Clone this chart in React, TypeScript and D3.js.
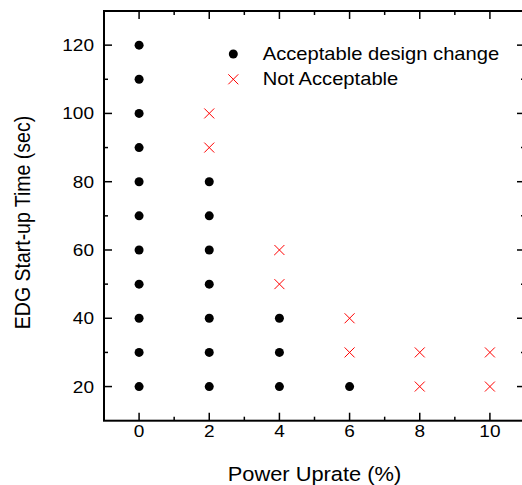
import React from 'react';
import * as d3 from 'd3';

// Acceptable design change (black dots)
const acceptableUprate = [0, 0, 0, 0, 0, 0, 0, 0, 0, 0, 0, 2, 2, 2, 2, 2, 2, 2, 4, 4, 4, 6];
const acceptableTime = [20, 30, 40, 50, 60, 70, 80, 90, 100, 110, 120, 20, 30, 40, 50, 60, 70, 80, 20, 30, 40, 20];

// Not acceptable (red crosses)
const rejectedUprate = [2, 2, 4, 4, 6, 6, 8, 8, 10, 10];
const rejectedTime = [90, 100, 50, 60, 30, 40, 20, 30, 20, 30];

const xMajorTicks = [0, 2, 4, 6, 8, 10];
const xMinorTicks = [1, 3, 5, 7, 9];
const yMajorTicks = [20, 40, 60, 80, 100, 120];
const yMinorTicks = [30, 50, 70, 90, 110];

const legendLabels = ['Acceptable design change', 'Not Acceptable'];

const W = 522;
const H = 485;
const FONT = '"Liberation Sans", Arial, sans-serif';
const STRETCH = 1.12; // glyphs in the source are a bit wide

const App = () => {
  const left = 104, right = 525, top = 11, bottom = 420.7;

  const x = d3.scaleLinear().domain([-1, 11]).range([left, right]);
  const y = d3.scaleLinear().domain([10, 130]).range([bottom, top]);

  const crossPath = (cx: number, cy: number, s = 5) =>
    `M${cx - s},${cy - s}L${cx + s},${cy + s}M${cx - s},${cy + s}L${cx + s},${cy - s}`;

  const txt = (tx: number, ty: number) => `translate(${tx},${ty}) scale(${STRETCH},1)`;

  return (
    <svg
      width={W}
      height={H}
      style={{ position: 'absolute', left: 0, top: 0, display: 'block', background: '#fff' }}
      fontFamily={FONT}
    >
      {/* frame */}
      <rect x={left} y={top} width={right - left} height={bottom - top} fill="none" stroke="#000" strokeWidth={2} />

      {/* x ticks, bottom + top, pointing inward */}
      {xMajorTicks.map(t => (
        <g key={'xM' + t} stroke="#000" strokeWidth={1.5}>
          <line x1={x(t)} x2={x(t)} y1={bottom} y2={bottom - 8} />
          <line x1={x(t)} x2={x(t)} y1={top} y2={top + 8} />
        </g>
      ))}
      {xMinorTicks.map(t => (
        <g key={'xm' + t} stroke="#000" strokeWidth={1.5}>
          <line x1={x(t)} x2={x(t)} y1={bottom} y2={bottom - 4} />
          <line x1={x(t)} x2={x(t)} y1={top} y2={top + 4} />
        </g>
      ))}

      {/* y ticks, left + right */}
      {yMajorTicks.map(t => (
        <g key={'yM' + t} stroke="#000" strokeWidth={1.5}>
          <line x1={left} x2={left + 8} y1={y(t)} y2={y(t)} />
          <line x1={right} x2={right - 8} y1={y(t)} y2={y(t)} />
        </g>
      ))}
      {yMinorTicks.map(t => (
        <g key={'ym' + t} stroke="#000" strokeWidth={1.5}>
          <line x1={left} x2={left + 4} y1={y(t)} y2={y(t)} />
          <line x1={right} x2={right - 4} y1={y(t)} y2={y(t)} />
        </g>
      ))}

      {/* tick labels */}
      {xMajorTicks.map(t => (
        <text key={'xl' + t} transform={txt(x(t), 436.5)} textAnchor="middle" fontSize={17} fill="#000">
          {t}
        </text>
      ))}
      {yMajorTicks.map(t => (
        <text key={'yl' + t} transform={txt(94, y(t) + 6)} textAnchor="end" fontSize={17} fill="#000">
          {t}
        </text>
      ))}

      {/* axis titles */}
      <text transform={txt((left + right) / 2, 480.5)} textAnchor="middle" fontSize={19.5} fill="#000">
        Power Uprate (%)
      </text>
      <text
        transform={`translate(30,222.5) rotate(-90) scale(1,${STRETCH})`}
        textAnchor="middle"
        fontSize={19.5}
        fill="#000"
      >
        EDG Start-up Time (sec)
      </text>

      {/* data */}
      {acceptableUprate.map((u, i) => (
        <circle key={'a' + i} cx={x(u)} cy={y(acceptableTime[i])} r={4.5} fill="#000" />
      ))}
      {rejectedUprate.map((u, i) => (
        <path key={'r' + i} d={crossPath(x(u), y(rejectedTime[i]))} stroke="#ff0000" strokeWidth={1} fill="none" />
      ))}

      {/* legend */}
      <circle cx={233.3} cy={54} r={4.5} fill="#000" />
      <text transform={txt(262.7, 60)} fontSize={18} fill="#000">{legendLabels[0]}</text>
      <path d={crossPath(233.3, 79.3)} stroke="#ff0000" strokeWidth={1} fill="none" />
      <text transform={txt(262.7, 85)} fontSize={18} fill="#000">{legendLabels[1]}</text>
    </svg>
  );
};

export default App;
